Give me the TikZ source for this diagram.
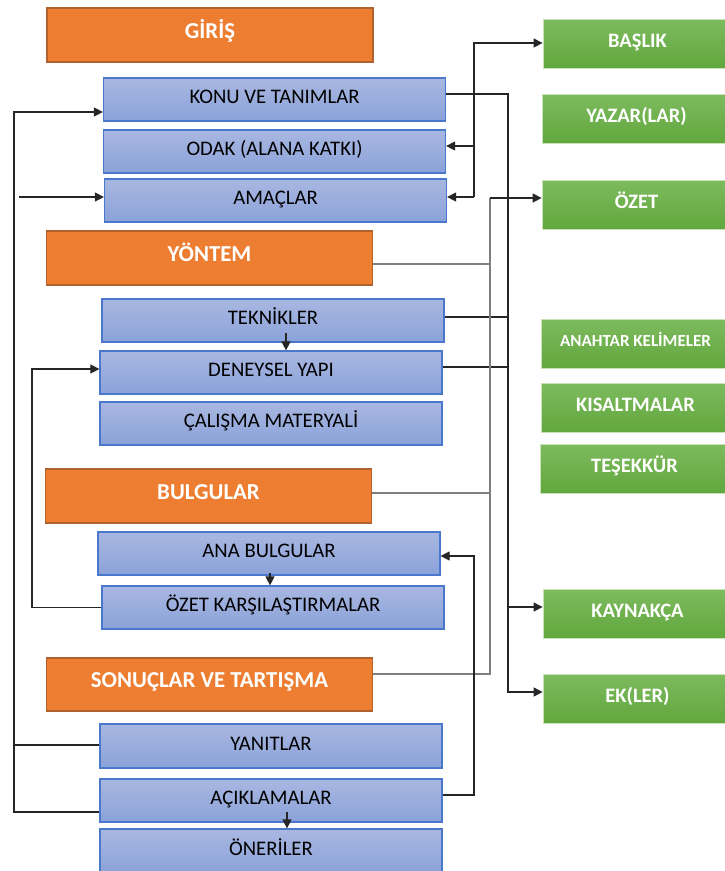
\documentclass[tikz,border=0pt]{standalone}
\usepackage{fontspec}
\setmainfont{Carlito}
\usetikzlibrary{arrows.meta}
\definecolor{orfill}{HTML}{ED7D31}
\definecolor{ordraw}{HTML}{B0612C}
\definecolor{bltop}{HTML}{A9B7E1}
\definecolor{blbot}{HTML}{8AA2D9}
\definecolor{bldraw}{HTML}{4A78CC}
\definecolor{grtop}{HTML}{7DBB5E}
\definecolor{grbot}{HTML}{62A73E}
\definecolor{grdraw}{HTML}{C9E2B8}
\definecolor{ln}{HTML}{262626}
\definecolor{lngray}{HTML}{7F7F7F}
\tikzset{
  orbox/.style={rectangle, draw=ordraw, line width=1.2pt, fill=orfill, text=white,
    minimum width=326pt, minimum height=54pt, inner sep=0pt,
    font=\fontsize{22.8}{25}\selectfont\bfseries, text height=14.5pt, text depth=8pt},
  blbox/.style={rectangle, draw=bldraw, line width=1.2pt, top color=bltop, bottom color=blbot,
    minimum width=342pt, minimum height=43pt, inner sep=0pt, text=black,
    font=\fontsize{20.7}{23}\selectfont, text height=13.3pt, text depth=5pt},
  grbox/.style={rectangle, draw=grdraw, line width=0.8pt, top color=grtop, bottom color=grbot,
    minimum width=189pt, minimum height=49pt, inner sep=0pt, text=white,
    font=\fontsize{20.5}{23}\selectfont\bfseries, text height=13pt, text depth=6pt},
  conn/.style={draw=ln, line width=1.1pt},
  conngray/.style={draw=lngray, line width=1.3pt},
  arr/.style={conn, -{Triangle[length=9pt,width=9pt]}},
}
\begin{document}
\begin{tikzpicture}[x=1pt,y=-1pt]
\clip (0,0) rectangle (725,871);
\fill[white] (0,0) rectangle (725,871);
% orange section boxes
\node[orbox] (giris) at (210,35) {GİRİŞ};
\node[orbox] (yontem) at (209.5,258) {YÖNTEM};
\node[orbox] (bulgu) at (208.5,496) {BULGULAR};
\node[orbox, minimum height=53pt] (sonuc) at (209.5,684.5) {SONUÇLAR VE TARTIŞMA};
% blue boxes
\node[blbox] (konu) at (274.5,99.5) {KONU VE TANIMLAR};
\node[blbox] (odak) at (274.5,151.5) {ODAK (ALANA KATKI)};
\node[blbox] (amac) at (275.5,200.5) {AMAÇLAR};
\node[blbox] (tek) at (273,320.5) {TEKNİKLER};
\node[blbox] (deney) at (271,372.5) {DENEYSEL YAPI};
\node[blbox] (calis) at (271,423.5) {ÇALIŞMA MATERYALİ};
\node[blbox] (ana) at (269,553.5) {ANA BULGULAR};
\node[blbox] (ozk) at (273,607.5) {ÖZET KARŞILAŞTIRMALAR};
\node[blbox, minimum height=44pt] (yanit) at (271,746) {YANITLAR};
\node[blbox] (acik) at (271,800.5) {AÇIKLAMALAR};
\node[blbox, minimum height=44pt] (oner) at (271,851) {ÖNERİLER};
% green boxes
\node[grbox] (baslik) at (637.5,43.5) {BAŞLIK};
\node[grbox] (yazar) at (636.5,118.5) {YAZAR(LAR)};
\node[grbox] (ozet) at (636.5,204.5) {ÖZET};
\node[grbox, font=\fontsize{17}{20}\selectfont\bfseries, text height=11pt] (anahtar) at (635.5,343.5) {ANAHTAR KELİMELER};
\node[grbox] (kisalt) at (635.5,407.5) {KISALTMALAR};
\node[grbox] (tesek) at (634.5,468.5) {TEŞEKKÜR};
\node[grbox] (kayn) at (637.5,613.5) {KAYNAKÇA};
\node[grbox] (ek) at (637.5,698.5) {EK(LER)};
% helper coordinates
\coordinate (amacstart) at (19,197);
\coordinate (hubA) at (474,43);
\coordinate (hubB) at (474,197);
\coordinate (hubC) at (474,146);
\coordinate (tekstart) at (286,333);
\coordinate (anastart) at (270,573);
\coordinate (acikstart) at (287,812);
\coordinate (busK) at (508,607);
\coordinate (busG) at (490,198);
% left loop 1: ACIKLAMALAR / YANITLAR -> KONU
\draw[arr] (acik.west |- 0,812) -- (14,812) -- (14,112) -- (konu.west |- 0,112);
\draw[conn] (yanit.west |- 0,745) -- (14,745);
% stub arrow into AMACLAR
\draw[arr] (amacstart) -- (amac.west |- amacstart);
% left loop 2: OZET KARSILASTIRMALAR -> DENEYSEL YAPI
\draw[arr] (ozk.west) -- (32,607.5) -- (32,369) -- (deney.west |- 0,369);
% small down arrows
\draw[arr] (tekstart) -- (tekstart |- deney.north);
\draw[arr] (anastart) -- (anastart |- ozk.north);
\draw[arr] (acikstart) -- (acikstart |- oner.north);
% top tree to BASLIK, ODAK, AMACLAR
\draw[arr] (hubB) -- (hubA) -- (baslik.west |- hubA);
\draw[arr] (hubB) -- (amac.east |- hubB);
\draw[arr] (hubC) -- (odak.east |- hubC);
% black bus to KAYNAKCA and EK(LER)
\draw[arr] (konu.east |- 0,94) -- (508,94) -- (508,692) -- (ek.west |- 0,692);
\draw[arr] (busK) -- (kayn.west |- busK);
\draw[conn] (tek.east |- 0,317) -- (508,317);
\draw[conn] (deney.east |- 0,367) -- (508,367);
% gray bus from section boxes to OZET
\draw[conngray] (sonuc.east |- 0,674) -- (490,674) -- (490,198);
\draw[conngray] (yontem.east |- 0,264) -- (490,264);
\draw[conngray] (bulgu.east |- 0,493) -- (490,493);
\draw[arr, line width=1.5pt] (busG) -- (ozet.west |- busG);
% ACIKLAMALAR -> ANA BULGULAR
\draw[arr] (acik.east |- 0,795) -- (474,795) -- (474,556) -- (ana.east |- 0,556);
\end{tikzpicture}
\end{document}
